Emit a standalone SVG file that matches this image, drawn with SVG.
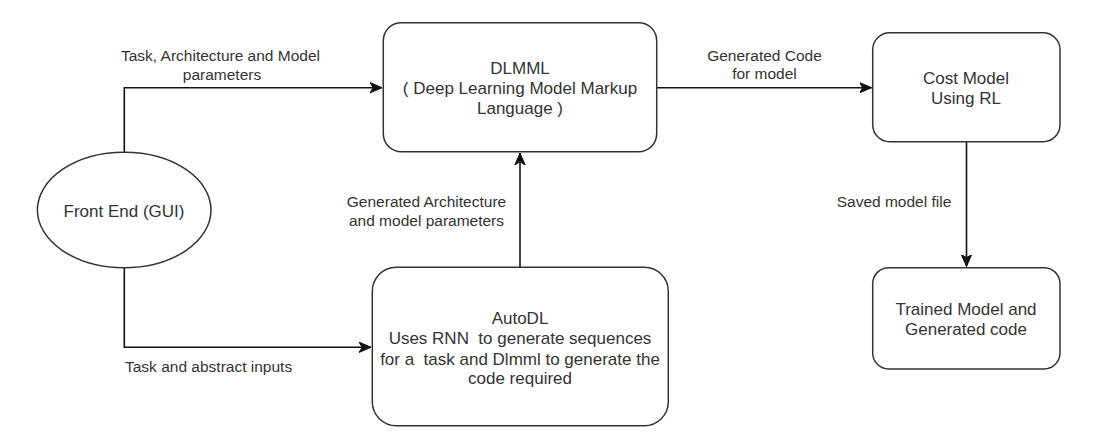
<svg xmlns="http://www.w3.org/2000/svg" width="1117" height="446" viewBox="0 0 1117 446">
  <style>
    .node { fill: #ffffff; stroke: #333333; stroke-width: 1.5; }
    .edge { fill: none; stroke: #111111; stroke-width: 1.6; }
    .nt { font-family: "Liberation Sans", Arial, sans-serif; font-size: 17px; fill: #333333; text-anchor: middle; }
    .lt { font-family: "Liberation Sans", Arial, sans-serif; font-size: 15.5px; fill: #333333; text-anchor: middle; }
  </style>
  <defs>
    <marker id="arrow" markerUnits="userSpaceOnUse" markerWidth="13" markerHeight="12" viewBox="0 0 13 12" refX="12" refY="6" orient="auto">
      <path d="M0,0.8 L12,6 L0,11.2 L3.2,6 Z" fill="#111111" stroke="#111111" stroke-width="1" stroke-linejoin="miter"/>
    </marker>
  </defs>
  <rect width="1117" height="446" fill="#ffffff"/>

  <g id="connectors">
    <path class="edge" d="M124.3,152.3 L124.3,87.7 L382,87.7" marker-end="url(#arrow)"/>
    <path class="edge" d="M124.3,267.7 L124.3,347.3 L371,347.3" marker-end="url(#arrow)"/>
    <path class="edge" d="M520,267.3 L520,153" marker-end="url(#arrow)"/>
    <path class="edge" d="M656.7,87.7 L871.5,87.7" marker-end="url(#arrow)"/>
    <path class="edge" d="M966.5,141.7 L966.5,266.5" marker-end="url(#arrow)"/>
    <text class="lt" x="220.5" y="60.5">Task, Architecture and Model</text>
    <text class="lt" x="222" y="79.5">parameters</text>
    <text class="lt" x="764.5" y="60.5">Generated Code</text>
    <text class="lt" x="764.5" y="79">for model</text>
    <text class="lt" x="426.5" y="207">Generated Architecture</text>
    <text class="lt" x="426.5" y="226">and model parameters</text>
    <text class="lt" x="894" y="207">Saved model file</text>
    <text class="lt" x="125" y="371.5" style="text-anchor:start">Task and abstract inputs</text>
  </g>

  <g id="front-end">
    <ellipse class="node" cx="124.2" cy="210" rx="86.8" ry="57.7"/>
    <text class="nt" x="124" y="216.5">Front End (GUI)</text>
  </g>

  <g id="dlmml">
    <rect class="node" x="383.3" y="22.7" width="273.4" height="129" rx="18" ry="18"/>
    <text class="nt" x="520" y="74">DLMML</text>
    <text class="nt" x="520" y="94">( Deep Learning Model Markup</text>
    <text class="nt" x="520" y="114">Language )</text>
  </g>

  <g id="autodl">
    <rect class="node" x="372.3" y="267.3" width="296" height="158.4" rx="24" ry="24"/>
    <text class="nt" x="520" y="324">AutoDL</text>
    <text class="nt" x="520" y="344" xml:space="preserve">Uses RNN  to generate sequences</text>
    <text class="nt" x="520" y="364.5" xml:space="preserve">for a  task and Dlmml to generate the</text>
    <text class="nt" x="520" y="384">code required</text>
  </g>

  <g id="cost-model">
    <rect class="node" x="872.7" y="32.7" width="187.3" height="109" rx="17" ry="17"/>
    <text class="nt" x="966" y="84">Cost Model</text>
    <text class="nt" x="966" y="104">Using RL</text>
  </g>

  <g id="trained-model">
    <rect class="node" x="872.7" y="267.7" width="187.3" height="101.3" rx="16" ry="16"/>
    <text class="nt" x="966" y="315">Trained Model and</text>
    <text class="nt" x="966" y="335">Generated code</text>
  </g>
</svg>
